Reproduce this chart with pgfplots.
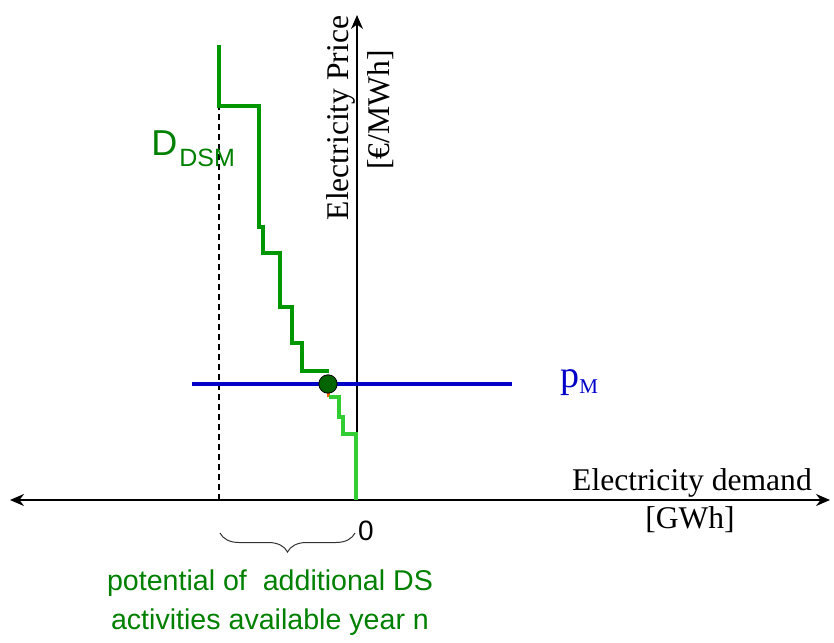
\documentclass[border=0pt]{standalone}
\usepackage{fontspec}
\setmainfont{Liberation Serif}
\newfontfamily\arial{Liberation Sans}
\usepackage{pgfplots}
\pgfplotsset{compat=1.18}
\usetikzlibrary{arrows.meta,decorations.pathreplacing}
\definecolor{dkgreen}{RGB}{0,150,0}
\definecolor{ltgreen}{RGB}{50,205,50}
\definecolor{txtgreen}{RGB}{0,128,0}
\definecolor{dotgreen}{RGB}{0,100,0}
\definecolor{myblue}{RGB}{0,0,200}
\definecolor{myorange}{RGB}{255,102,0}
\begin{document}
\begin{tikzpicture}
\begin{axis}[width=417pt,height=318.5pt,scale only axis,
  xmin=0,xmax=834,ymin=0,ymax=637,hide axis,clip=false]
\path (rel axis cs:0,0) rectangle (rel axis cs:1,1);
% axes
\addplot[black,line width=1pt,{Stealth[length=7pt,width=6pt]}-{Stealth[length=7pt,width=6pt]}] coordinates {(10,137) (830,137)};
\addplot[black,line width=1pt,-{Stealth[length=7pt,width=6pt]}] coordinates {(357,137) (357,622)};
% dashed line
\addplot[black,line width=1pt,dash pattern=on 3pt off 2pt] coordinates {(219,137) (219,531)};
% blue price line
\addplot[myblue,line width=1.6pt] coordinates {(192,253) (512,253)};
% DSM step curve
\addplot[dkgreen,line width=1.8pt] coordinates {(219,592) (219,531) (259,531) (259,410) (263,410) (263,384) (280,384) (280,330) (292,330) (292,294) (302,294) (302,266) (329,266)};
\addplot[myorange,line width=1.5pt] coordinates {(328,253) (328,240)};
\addplot[ltgreen,line width=1.8pt] coordinates {(329,240) (339,240) (339,220) (343,220) (343,203) (356,203) (356,137)};
% intersection dot
\addplot[only marks,mark=*,mark size=4.6pt,mark options={fill=dotgreen,draw=black,line width=0.4pt}] coordinates {(328,253)};
% brace
\draw[decorate,decoration={brace,mirror,amplitude=9.5pt},line width=0.5pt,black!80] (axis cs:220,104) -- (axis cs:355,104);
% labels
\node[rotate=90,font=\fontsize{15.8}{18}\selectfont] at (axis cs:341,519) {Electricity Price};
\node[rotate=90,font=\fontsize{15.8}{18}\selectfont] at (axis cs:381,527) {[€/MWh]};
\node[font=\fontsize{15.8}{18}\selectfont] at (axis cs:692,154) {Electricity demand};
\node[font=\fontsize{15.8}{18}\selectfont] at (axis cs:690,117) {[GWh]};
\node[myblue,anchor=base west,font=\fontsize{19}{20}\selectfont,inner sep=0pt] at (axis cs:560,250) {p\raisebox{-3pt}{\fontsize{10.5}{12}\selectfont M}};
\node[txtgreen,anchor=base west,inner sep=0pt,font=\arial\fontsize{18}{20}\selectfont] at (axis cs:151,481) {D\hspace{1pt}\raisebox{-5.5pt}{\fontsize{12.5}{14}\selectfont DSM}};
\node[font=\arial\fontsize{14}{16}\selectfont] at (axis cs:366,106) {0};
\node[txtgreen,align=center,font=\arial\fontsize{14.3}{19.5}\selectfont] at (axis cs:270,34) {potential of \ additional DS\\activities available year n};
\end{axis}
\end{tikzpicture}
\end{document}
